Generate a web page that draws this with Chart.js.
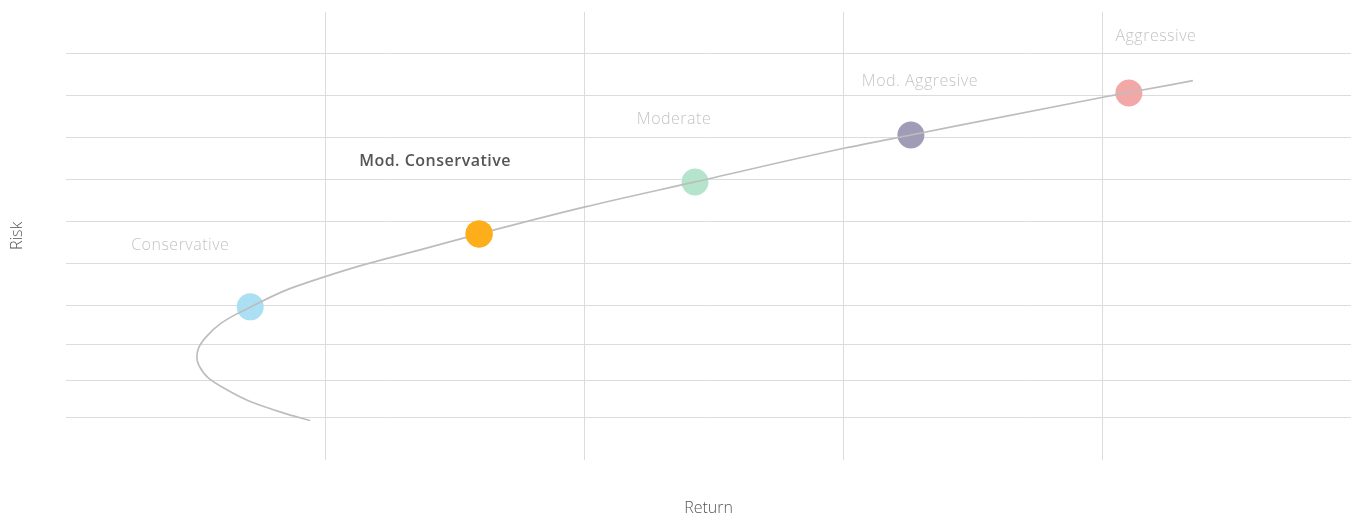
<!DOCTYPE html>
<html>
<head>
<meta charset="utf-8">
<script src="https://cdn.jsdelivr.net/npm/chart.js@4.4.1/dist/chart.umd.min.js"></script>
<style>
	html, body { margin: 0; padding: 0; background: #fff; overflow: hidden; }
	#wrap { width: 1351px; height: 518px; position: relative; }
</style>
</head>
<body>
<div id="wrap"><canvas id="riskChart"></canvas></div>
<script>
// Portfolio profiles (dots).
var profileNames = ['Conservative', 'Mod. Conservative', 'Moderate', 'Mod. Aggresive', 'Aggressive'];
var profileReturn = [0.71, 1.593, 2.426, 3.259, 4.10];
var profileRisk = [3.643, 5.381, 6.619, 7.738, 8.738];
var selectedProfile = 1;

// Efficient frontier curve (risk goes up along it).
var curveReturn = [0.941, 0.837, 0.710, 0.620, 0.548, 0.513, 0.504, 0.511, 0.540, 0.594, 0.658, 0.710, 0.851, 0.999, 1.160, 1.365, 1.593, 2.002, 2.426, 3.001, 3.259, 4.0, 4.104, 4.347];
var curveRisk = [0.936, 1.119, 1.388, 1.667, 1.952, 2.238, 2.429, 2.667, 2.929, 3.238, 3.476, 3.636, 4.048, 4.364, 4.667, 5.0, 5.381, 6.024, 6.619, 7.421, 7.738, 8.636, 8.755, 9.031];

// Grid positions (no visible tick labels).
var returnTicks = [1, 2, 3, 4];
var riskTicks = [1, 1.881, 2.738, 3.667, 4.667, 5.667, 6.667, 7.667, 8.667, 9.667];

var dotColors = ['#aadff4', '#fdae1a', '#b4e4cb', '#a09cb8', '#f3a8a8'];
var labelOffsets = [[-70, -61], [-44, -72], [-21, -62], [9, -54], [27, -57]];
var fontFamily = '"Open Sans", sans-serif';

function pts(xs, ys) {
	return xs.map(function(x, i) { return { x: x, y: ys[i] }; });
}

var profilePoints = pts(profileReturn, profileRisk);

var labelPlugin = {
	id: 'profileLabels',
	afterDatasetsDraw: function(chart) {
		var ctx = chart.ctx;
		var xs = chart.scales.x, ys = chart.scales.y;
		ctx.save();
		ctx.textAlign = 'center';
		ctx.textBaseline = 'middle';
		ctx.letterSpacing = '0.5px';
		profileNames.forEach(function(name, i) {
			var px = xs.getPixelForValue(profileReturn[i]) + labelOffsets[i][0];
			var py = ys.getPixelForValue(profileRisk[i]) + labelOffsets[i][1];
			if (i === selectedProfile) {
				ctx.font = '600 16px ' + fontFamily;
				ctx.fillStyle = '#555555';
			} else {
				ctx.font = '300 16px ' + fontFamily;
				ctx.fillStyle = '#c4c4c4';
			}
			ctx.fillText(name, px, py);
		});
		ctx.restore();
	}
};

new Chart(document.getElementById('riskChart'), {
	type: 'scatter',
	data: {
		datasets: [{
			// selected profile on top of the curve
			data: [profilePoints[selectedProfile]],
			backgroundColor: dotColors[selectedProfile],
			borderWidth: 0,
			pointRadius: 13.5,
			pointHoverRadius: 13.5,
			order: 0
		}, {
			data: pts(curveReturn, curveRisk),
			showLine: true,
			indexAxis: 'y',
			cubicInterpolationMode: 'monotone',
			borderColor: '#bdbdbd',
			borderWidth: 1.7,
			pointRadius: 0,
			pointHoverRadius: 0,
			fill: false,
			order: 1
		}, {
			data: profilePoints,
			backgroundColor: dotColors,
			borderWidth: 0,
			pointRadius: 13.5,
			pointHoverRadius: 13.5,
			order: 2
		}]
	},
	options: {
		responsive: true,
		maintainAspectRatio: false,
		animation: false,
		layout: { autoPadding: false, padding: { top: 12, left: 0, right: 0, bottom: 0 } },
		plugins: {
			legend: { display: false },
			tooltip: { enabled: false }
		},
		scales: {
			x: {
				type: 'linear',
				min: 0,
				max: 4.957,
				afterBuildTicks: function(scale) {
					scale.ticks = returnTicks.map(function(v) { return { value: v }; });
				},
				ticks: { display: false },
				grid: { color: '#dcdcdc', lineWidth: 1, drawTicks: false },
				border: { display: false },
				title: {
					display: true,
					text: 'Return',
					color: '#555555',
					font: { family: fontFamily, size: 16, weight: '300' },
					padding: { top: 39, bottom: 0 }
				}
			},
			y: {
				type: 'linear',
				min: 0,
				max: 10.667,
				afterBuildTicks: function(scale) {
					scale.ticks = riskTicks.map(function(v) { return { value: v }; });
				},
				ticks: { display: false },
				grid: { color: '#dcdcdc', lineWidth: 1, drawTicks: false },
				border: { display: false },
				title: {
					display: true,
					text: 'Risk',
					color: '#555555',
					font: { family: fontFamily, size: 16, weight: '300' },
					padding: { top: 8, bottom: 39 }
				}
			}
		}
	},
	plugins: [labelPlugin]
});
</script>
</body>
</html>
